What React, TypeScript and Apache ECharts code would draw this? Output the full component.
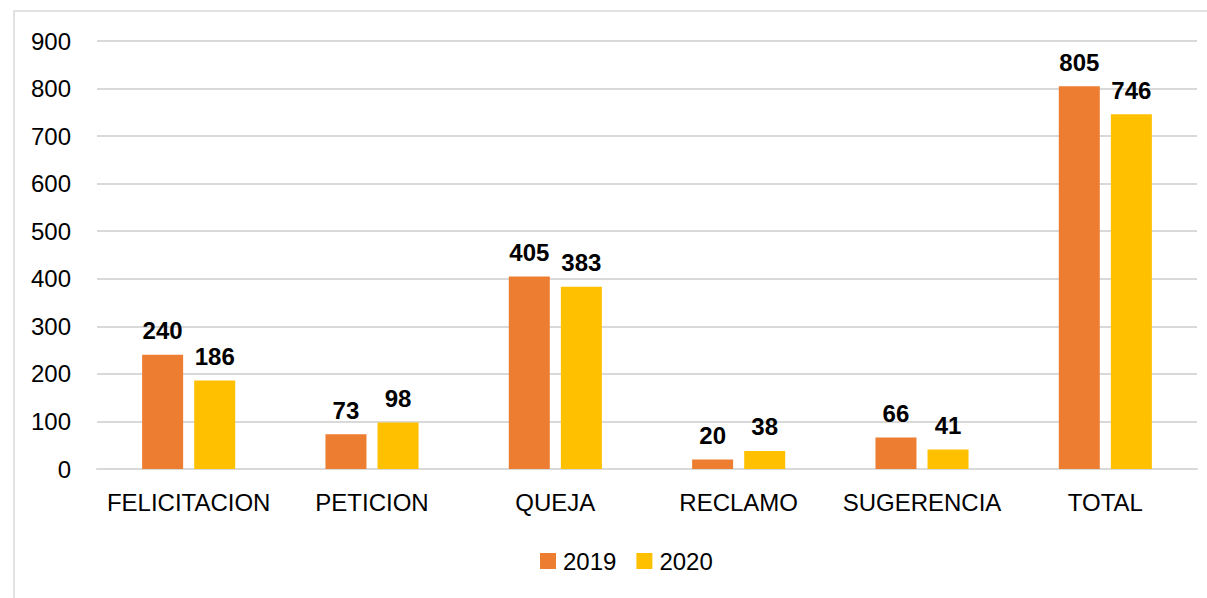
import React, { useEffect, useRef } from "react";
import * as echarts from "echarts";

const categories = ["FELICITACION", "PETICION", "QUEJA", "RECLAMO", "SUGERENCIA", "TOTAL"];
const series2019 = [240, 73, 405, 20, 66, 805];
const series2020 = [186, 98, 383, 38, 41, 746];
const seriesNames = ["2019", "2020"];
const colors = ["#ED7D31", "#FFC000"];

const FONT = "'Liberation Sans', Arial, sans-serif";

export default function App() {
  const ref = useRef<HTMLDivElement>(null);
  useEffect(() => {
    if (!ref.current) return;
    const chart = echarts.init(ref.current, null, { renderer: "svg" });
    const label = {
      show: true,
      position: "top",
      distance: 12,
      color: "#000",
      fontFamily: FONT,
      fontSize: 24,
      fontWeight: "bold",
    };
    chart.setOption({
      animation: false,
      backgroundColor: "#fff",
      textStyle: { fontFamily: FONT },
      graphic: [
        {
          type: "rect",
          shape: { x: 14, y: 11, width: 1300, height: 800 },
          style: { fill: "none", stroke: "#d9d9d9", lineWidth: 1.5 },
          silent: true,
        },
      ],
      grid: { left: 97, right: 10, top: 41, bottom: 129, containLabel: false },
      legend: {
        data: seriesNames,
        bottom: 20,
        left: 535,
        itemWidth: 16,
        itemHeight: 16,
        itemGap: 20,
        icon: "rect",
        textStyle: { fontFamily: FONT, fontSize: 24, color: "#000", padding: [0, 0, 0, 2] },
      },
      xAxis: {
        type: "category",
        data: categories,
        axisLine: { show: true, lineStyle: { color: "#d9d9d9", width: 2 } },
        axisTick: { show: false },
        axisLabel: { fontFamily: FONT, fontSize: 24, color: "#000", margin: 21, interval: 0 },
      },
      yAxis: {
        type: "value",
        min: 0,
        max: 900,
        interval: 100,
        axisLine: { show: false },
        axisTick: { show: false },
        splitLine: { lineStyle: { color: "#d9d9d9", width: 2 } },
        axisLabel: { fontFamily: FONT, fontSize: 24, color: "#000", margin: 26 },
      },
      series: [
        {
          name: seriesNames[0],
          type: "bar",
          data: series2019,
          barWidth: 41,
          barGap: "27%",
          itemStyle: { color: colors[0] },
          label,
        },
        {
          name: seriesNames[1],
          type: "bar",
          data: series2020,
          barWidth: 41,
          barGap: "27%",
          itemStyle: { color: colors[1] },
          label,
        },
      ],
    });
    return () => chart.dispose();
  }, []);
  return (
    <div
      ref={ref}
      style={{ position: "absolute", left: 0, top: 0, width: 1207, height: 598 }}
    />
  );
}
